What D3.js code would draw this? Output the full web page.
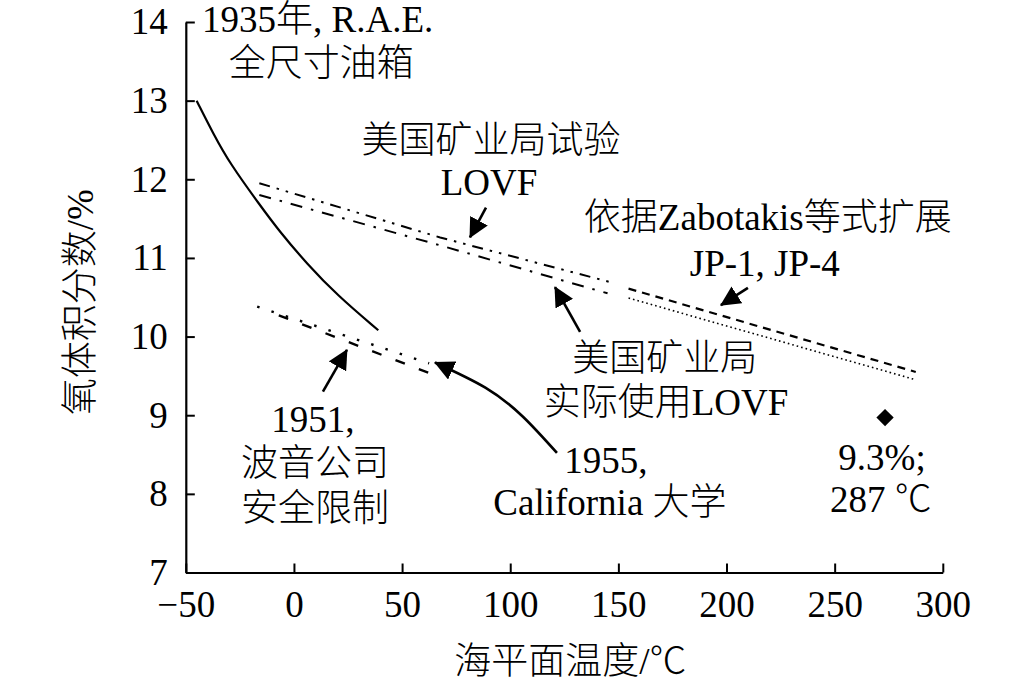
<!DOCTYPE html>
<html><head><meta charset="utf-8">
<script src="https://cdn.jsdelivr.net/npm/d3@7"></script>
<style>
body{margin:0;background:#fff;}
svg text{font-family:"Liberation Serif","Noto Sans CJK SC",serif;fill:#000;font-weight:300;}
</style></head><body>
<svg id="chart" width="1033" height="686"></svg>
<script>
// ---- data ----
const xTicks = [-50, 0, 50, 100, 150, 200, 250, 300];
const yTicks = [7, 8, 9, 10, 11, 12, 13, 14];
const xTitle = "海平面温度/℃";
const yTitle = "氧体积分数/%";

// 1935, R.A.E. full-size tank (solid)
const raeTemp = [-45, -37.3, -29.6, -15.7, -6.5, 5.9, 19.8, 39.0];
const raeO2   = [13.0, 12.58, 12.20, 11.67, 11.33, 10.93, 10.53, 10.08];
// US Bureau of Mines test LOVF (dash-dot-dot)
const bomTestTemp = [-16, 67.6, 148];
const bomTestO2   = [11.95, 11.26, 10.68];
// US Bureau of Mines practical LOVF (dash-dot)
const bomUsedTemp = [-16, 67.6, 145];
const bomUsedO2   = [11.80, 11.16, 10.55];
// Zabotakis extension JP-1 / JP-4
const jp1Temp = [154.7, 287.5];
const jp1O2   = [10.61, 9.55];
const jp4Temp = [154.7, 287.5];
const jp4O2   = [10.49, 9.45];
// 1951 Boeing safety limit (dashed)
const boeingTemp = [-7, 65];
const boeingO2   = [10.27, 9.51];
// 1955 University of California (dotted)
const califTemp = [-17, 62.5];
const califO2   = [10.38, 9.66];
// single point 9.3%; 287 ℃
const pointTemp = [273.3];
const pointO2   = [8.97];

// ---- setup ----
const svg = d3.select("#chart");
const x = d3.scaleLinear().domain([-50, 300]).range([185.8, 942.8]);
const y = d3.scaleLinear().domain([7, 14]).range([572.5, 22]);
const FS = 37;

function styleAxis(g){
  g.attr("font-family", null).attr("font-size", null);
  g.select(".domain").attr("stroke", "#000").attr("stroke-width", 2.2);
  g.selectAll(".tick line").attr("stroke", "#000").attr("stroke-width", 2);
  g.selectAll(".tick text").attr("font-size", FS).style("font-family", "'Liberation Serif',serif");
}

svg.append("g")
  .attr("transform", `translate(0,${y(7)})`)
  .call(d3.axisBottom(x).tickValues(xTicks).tickSizeInner(-9).tickSizeOuter(0).tickPadding(18))
  .call(styleAxis);

svg.append("g")
  .attr("transform", `translate(${x(-50)},0)`)
  .call(d3.axisLeft(y).tickValues(yTicks).tickSizeInner(-9).tickSizeOuter(0).tickPadding(18).tickFormat(d3.format("d")))
  .call(styleAxis);

// axis titles
svg.append("text")
  .attr("x", (x.range()[0] + x.range()[1]) / 2 + 6)
  .attr("y", 674)
  .attr("text-anchor", "middle")
  .attr("font-size", FS)
  .text(xTitle);

svg.append("text")
  .attr("transform", `translate(93,${(y.range()[0] + y.range()[1]) / 2 + 5}) rotate(-90)`)
  .attr("text-anchor", "middle")
  .attr("font-size", FS)
  .text(yTitle);

// ---- series ----
const line = d3.line().x(d => x(d[0])).y(d => y(d[1]));
const series = [
  {t: raeTemp, v: raeO2, curve: d3.curveBasis, w: 2.2, dash: null},
  {t: bomTestTemp, v: bomTestO2, curve: d3.curveLinear, w: 2, dash: "11,7,2.5,7,2.5,7"},
  {t: bomUsedTemp, v: bomUsedO2, curve: d3.curveLinear, w: 2, dash: "12,9,2.5,9"},
  {t: jp1Temp, v: jp1O2, curve: d3.curveLinear, w: 2.2, dash: "8,6"},
  {t: jp4Temp, v: jp4O2, curve: d3.curveLinear, w: 1.6, dash: "1.6,3"},
  {t: boeingTemp, v: boeingO2, curve: d3.curveLinear, w: 2.4, dash: "10,15"},
  {t: califTemp, v: califO2, curve: d3.curveLinear, w: 2.4, dash: "2.5,12.5"}
];
svg.append("g").selectAll("path").data(series).join("path")
  .attr("d", s => line.curve(s.curve)(d3.zip(s.t, s.v)))
  .attr("fill", "none")
  .attr("stroke", "#000")
  .attr("stroke-width", s => s.w)
  .attr("stroke-dasharray", s => s.dash);

svg.append("g").selectAll("path").data(d3.zip(pointTemp, pointO2)).join("path")
  .attr("d", d3.symbol(d3.symbolSquare, 150))
  .attr("transform", d => `translate(${x(d[0])},${y(d[1])}) rotate(45)`)
  .attr("fill", "#000");

// ---- annotation arrows ----
const defs = svg.append("defs");
defs.append("marker")
  .attr("id", "head")
  .attr("markerUnits", "userSpaceOnUse")
  .attr("viewBox", "0 -10 20 20")
  .attr("refX", 19).attr("refY", 0)
  .attr("markerWidth", 20).attr("markerHeight", 20)
  .attr("orient", "auto")
  .append("path").attr("d", "M0,-10L20,0L0,10Z").attr("fill", "#000");

const arrows = [
  [[88.8, 11.64], [81.4, 11.26]],
  [[209.9, 10.62], [197.4, 10.40]],
  [[132.3, 10.06], [120.7, 10.63]],
  [[13.4, 9.30], [24.5, 9.83]],
  [[121.6, 8.52], [105.9, 8.98], [88.5, 9.35], [65.2, 9.67]]
];
svg.append("g").selectAll("path").data(arrows).join("path")
  .attr("d", a => line.curve(a.length > 2 ? d3.curveNatural : d3.curveLinear)(a))
  .attr("fill", "none")
  .attr("stroke", "#000")
  .attr("stroke-width", 2.6)
  .attr("marker-end", "url(#head)");

// ---- annotation texts ----
const labels = [
  ["1935年, R.A.E.", 11.0, 13.87],
  ["全尺寸油箱", 12.6, 13.31],
  ["美国矿业局试验", 91.1, 12.33],
  ["LOVF", 90.2, 11.80],
  ["依据Zabotakis等式扩展", 219.1, 11.35],
  ["JP-1, JP-4", 217.7, 10.77],
  ["美国矿业局", 171.5, 9.56],
  ["实际使用LOVF", 172.0, 9.00],
  ["9.3%;", 271.9, 8.30],
  ["287 ℃", 271.4, 7.77],
  ["1951,", 8.8, 8.79],
  ["波音公司", 9.7, 8.23],
  ["安全限制", 9.7, 7.66],
  ["1955,", 144.2, 8.27],
  ["California 大学", 146.1, 7.73]
];
svg.append("g").selectAll("text").data(labels).join("text")
  .attr("x", d => x(d[1]))
  .attr("y", d => y(d[2]))
  .attr("text-anchor", "middle")
  .attr("font-size", FS)
  .text(d => d[0]);
</script>
</body></html>
